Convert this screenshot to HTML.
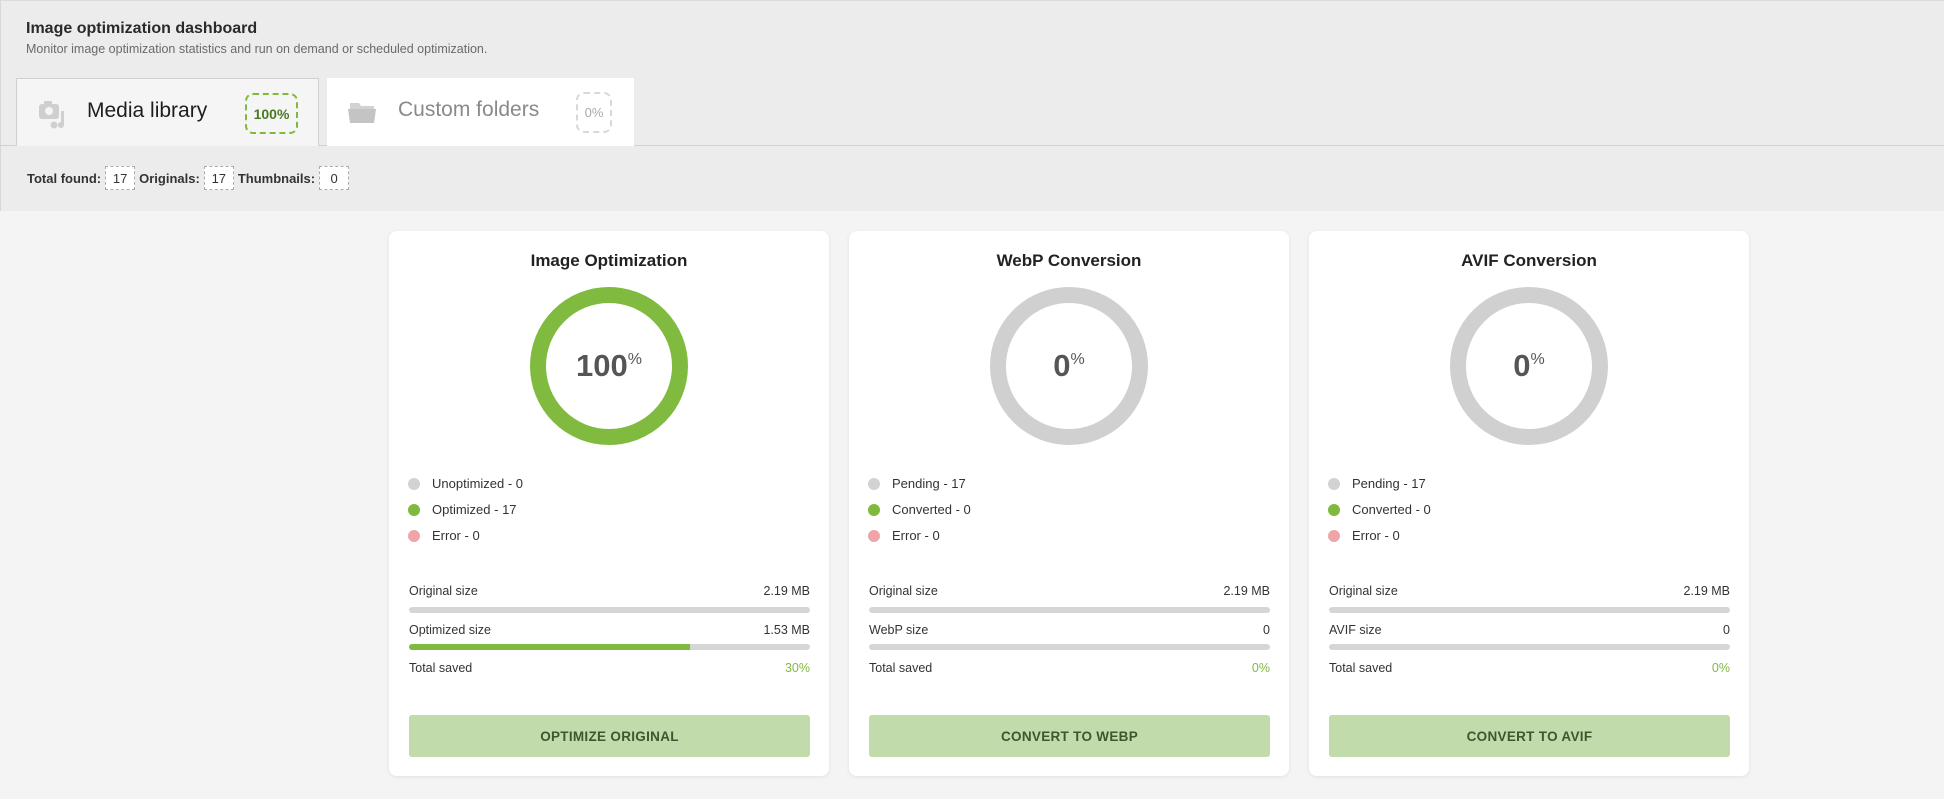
<!DOCTYPE html>
<html><head><meta charset="utf-8"><style>
*{box-sizing:border-box;margin:0;padding:0}
body{width:1944px;height:799px;overflow:hidden;background:#f4f4f4;font-family:"Liberation Sans",sans-serif;color:#2c2c2c;position:relative}
.top{position:absolute;left:0;top:0;width:1944px;height:211px;background:#ececec;border-left:1px solid #d8d8d8;border-top:1px solid #dcdcdc}
.abs{position:absolute}
.h1{left:26px;top:20px;font-size:16px;font-weight:bold;color:#2a2a2a}
.sub{left:26px;top:42px;font-size:12.5px;color:#6a6a6a}
.tab{position:absolute;top:78px;height:68px;display:flex;align-items:center}
.tab1{left:16px;width:303px;background:#f5f5f5;border:1px solid #d0d0d0;border-bottom:none}
.tab2{left:327px;width:307px;background:#fff}
.line{left:0;top:145px;width:1944px;height:1px;background:#d0d0d0}
.badge{position:absolute;top:14px;width:53px;height:41px;border:2px dashed #7fba3f;border-radius:8px;font-size:14px;font-weight:bold;color:#4a7a22;display:flex;align-items:center;justify-content:center}
.stats{left:27px;top:166px;font-size:13px;font-weight:bold;color:#333;display:flex;align-items:center}
.box{display:inline-flex;width:30px;height:24px;border:1px dashed #aaa;background:#fff;align-items:center;justify-content:center;font-weight:normal;margin:0 4px 0 4px}
.card{position:absolute;top:231px;width:440px;height:545px;background:#fff;border-radius:8px;box-shadow:0 1px 4px rgba(0,0,0,.08)}
.card h2{position:absolute;top:20px;width:100%;text-align:center;font-size:17px;font-weight:bold;color:#222}
.donut{position:absolute;left:141px;top:56px;width:158px;height:158px;border-radius:50%;border:16px solid #d0d0d0;display:flex;align-items:center;justify-content:center}
.donut span{font-size:31px;font-weight:bold;color:#555}
.donut sup{font-size:16px;font-weight:normal;vertical-align:12px}
.leg{position:absolute;left:19px;font-size:13px;color:#333;display:flex;align-items:center}
.dot{width:12px;height:12px;border-radius:50%;margin-right:12px}
.row{position:absolute;left:20px;width:401px;font-size:12.5px;color:#333;display:flex;justify-content:space-between}
.bar{position:absolute;left:20px;width:401px;height:6px;border-radius:3px;background:#d6d6d6;overflow:hidden}
.btn{position:absolute;left:20px;top:484px;width:401px;height:42px;background:#c2dbaa;border-radius:3px;font-size:13.5px;font-weight:bold;color:#3f5531;display:flex;align-items:center;justify-content:center;letter-spacing:.3px}
</style></head><body>
<div class="top"></div>
<div class="abs h1">Image optimization dashboard</div>
<div class="abs sub">Monitor image optimization statistics and run on demand or scheduled optimization.</div>
<div class="abs line"></div>
<div class="tab tab1">
 <svg class="abs" style="left:22px;top:22px" width="30" height="28" viewBox="0 0 30 28"><rect x="0" y="3" width="20" height="15" rx="3" fill="#cfcfcf"/><rect x="5" y="0" width="8" height="5" rx="1" fill="#cfcfcf"/><circle cx="10" cy="10" r="4" fill="#f5f5f5"/><circle cx="15" cy="24" r="3.5" fill="#cfcfcf"/><rect x="22" y="10" width="3" height="14" fill="#cfcfcf"/><circle cx="22" cy="24" r="3" fill="#cfcfcf"/></svg>
 <div class="abs" style="left:70px;top:20px;font-size:21px;color:#1e1e1e">Media library</div>
 <div class="badge" style="left:228px">100%</div>
</div>
<div class="tab tab2">
 <svg class="abs" style="left:21px;top:22px" width="30" height="24" viewBox="0 0 30 24"><path d="M2 3h9l2 3h13v16H2z" fill="#d2d2d2"/><path d="M0 9h28l-2 14H2z" fill="#c4c4c4"/></svg>
 <div class="abs" style="left:71px;top:20px;font-size:21px;color:#8a8a8a">Custom folders</div>
 <div class="badge" style="left:249px;width:36px;border-color:#d8d8d8;color:#aaa;font-weight:normal;font-size:13px">0%</div>
</div>
<div class="abs stats">Total found:<span class="box">17</span>Originals:<span class="box">17</span>Thumbnails:<span class="box">0</span></div>

<div class="card" style="left:389px">
 <h2>Image Optimization</h2>
 <div class="donut" style="border-color:#80ba3f"><span>100<sup>%</sup></span></div>
 <div class="leg" style="top:245px"><div class="dot" style="background:#d2d2d2"></div>Unoptimized - 0</div>
 <div class="leg" style="top:271px"><div class="dot" style="background:#7fba3f"></div>Optimized - 17</div>
 <div class="leg" style="top:297px"><div class="dot" style="background:#efa5a8"></div>Error - 0</div>
 <div class="row" style="top:353px"><span>Original size</span><span>2.19 MB</span></div>
 <div class="bar" style="top:376px"></div>
 <div class="row" style="top:392px"><span>Optimized size</span><span>1.53 MB</span></div>
 <div class="bar" style="top:413px"><div style="width:70%;height:100%;background:#7fba3f"></div></div>
 <div class="row" style="top:430px"><span>Total saved</span><span style="color:#7fba3f">30%</span></div>
 <div class="btn">OPTIMIZE ORIGINAL</div>
</div>
<div class="card" style="left:849px">
 <h2>WebP Conversion</h2>
 <div class="donut"><span>0<sup>%</sup></span></div>
 <div class="leg" style="top:245px"><div class="dot" style="background:#d2d2d2"></div>Pending - 17</div>
 <div class="leg" style="top:271px"><div class="dot" style="background:#7fba3f"></div>Converted - 0</div>
 <div class="leg" style="top:297px"><div class="dot" style="background:#efa5a8"></div>Error - 0</div>
 <div class="row" style="top:353px"><span>Original size</span><span>2.19 MB</span></div>
 <div class="bar" style="top:376px"></div>
 <div class="row" style="top:392px"><span>WebP size</span><span>0</span></div>
 <div class="bar" style="top:413px"></div>
 <div class="row" style="top:430px"><span>Total saved</span><span style="color:#7fba3f">0%</span></div>
 <div class="btn">CONVERT TO WEBP</div>
</div>
<div class="card" style="left:1309px">
 <h2>AVIF Conversion</h2>
 <div class="donut"><span>0<sup>%</sup></span></div>
 <div class="leg" style="top:245px"><div class="dot" style="background:#d2d2d2"></div>Pending - 17</div>
 <div class="leg" style="top:271px"><div class="dot" style="background:#7fba3f"></div>Converted - 0</div>
 <div class="leg" style="top:297px"><div class="dot" style="background:#efa5a8"></div>Error - 0</div>
 <div class="row" style="top:353px"><span>Original size</span><span>2.19 MB</span></div>
 <div class="bar" style="top:376px"></div>
 <div class="row" style="top:392px"><span>AVIF size</span><span>0</span></div>
 <div class="bar" style="top:413px"></div>
 <div class="row" style="top:430px"><span>Total saved</span><span style="color:#7fba3f">0%</span></div>
 <div class="btn">CONVERT TO AVIF</div>
</div>
</body></html>
